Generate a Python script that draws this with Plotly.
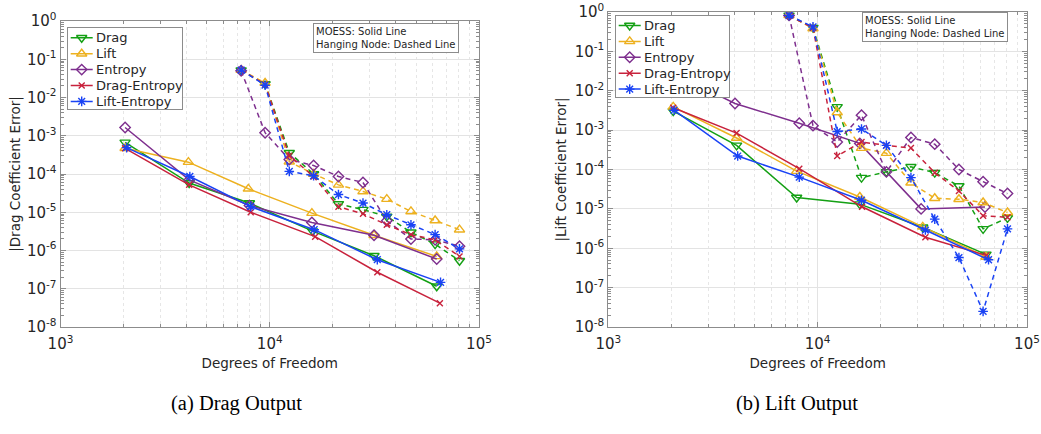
import plotly.graph_objects as go

# ---------------- data ----------------
SERIES = ["Drag", "Lift", "Entropy", "Drag-Entropy", "Lift-Entropy"]

# Hanging-node (dashed) degrees of freedom
HN_DOF = [7300, 9500, 12400, 16200, 21300, 27900, 36250, 47300, 61700, 80700]

# (a) Drag output -- MOESS (solid)
A_MOESS_DOF = {
    "Drag":         [2036, 4120, 8000, 16030, 31500, 62800],
    "Lift":         [2036, 4085, 7900, 15900, 31500, 62800],
    "Entropy":      [2036, 4120, 8000, 15900, 31500, 62800],
    "Drag-Entropy": [2036, 4120, 8110, 16480, 32660, 65000],
    "Lift-Entropy": [2070, 4150, 8110, 16300, 32660, 65500],
}
A_MOESS_ERR = {
    "Drag":         [6.7e-4, 5.8e-5, 1.74e-5, 3.2e-6, 7.3e-7, 1.16e-7],
    "Lift":         [4.7e-4, 2.04e-4, 4.1e-5, 9.5e-6, 2.5e-6, 7.0e-7],
    "Entropy":      [1.64e-3, 7.0e-5, 1.5e-5, 5.4e-6, 2.5e-6, 6.0e-7],
    "Drag-Entropy": [4.7e-4, 5.2e-5, 1.0e-5, 2.3e-6, 2.7e-7, 4.2e-8],
    "Lift-Entropy": [4.9e-4, 8.6e-5, 1.4e-5, 3.5e-6, 5.75e-7, 1.47e-7],
}
# (a) Drag output -- Hanging node (dashed)
A_HN_ERR = {
    "Drag":         [0.052, 0.0226, 3.6e-4, 1.0e-4, 1.65e-5, 1.17e-5, 7.8e-6, 3.0e-6, 1.47e-6, 5.4e-7],
    "Lift":         [0.052, 0.024, 2.1e-4, 1.0e-4, 5.2e-5, 3.5e-5, 2.2e-5, 1.05e-5, 6.1e-6, 3.5e-6],
    "Entropy":      [0.05, 1.2e-3, 2.4e-4, 1.67e-4, 8.6e-5, 6.0e-5, 6.0e-6, 2.0e-6, 1.9e-6, 1.3e-6],
    "Drag-Entropy": [0.052, 0.022, 3.0e-4, 8.6e-5, 1.4e-5, 9.1e-6, 4.7e-6, 2.6e-6, 1.9e-6, 7.0e-7],
    "Lift-Entropy": [0.052, 0.021, 1.17e-4, 9.0e-5, 2.9e-5, 1.74e-5, 8.6e-6, 4.7e-6, 2.6e-6, 1.1e-6],
}

# (b) Lift output -- MOESS (solid)
B_MOESS_DOF = {
    "Drag":         [2043, 4100, 7940, 15900, 31760, 63700],
    "Lift":         [2043, 4100, 7940, 15900, 31760, 63700],
    "Entropy":      [2043, 4030, 8170, 15900, 31200, 63000],
    "Drag-Entropy": [2043, 4100, 8170, 16300, 32700, 64000],
    "Lift-Entropy": [2060, 4150, 8170, 16200, 32700, 65500],
}
B_MOESS_ERR = {
    "Drag":         [3.05e-3, 4.1e-4, 1.94e-5, 1.32e-5, 3.4e-6, 7.0e-7],
    "Lift":         [3.9e-3, 6.3e-4, 9.1e-5, 2.0e-5, 3.5e-6, 6.0e-7],
    "Entropy":      [2.8e-2, 4.75e-3, 1.49e-3, 4.6e-4, 1.0e-5, 1.12e-5],
    "Drag-Entropy": [3.7e-3, 8.4e-4, 1.05e-4, 1.13e-5, 1.9e-6, 6.6e-7],
    "Lift-Entropy": [3.2e-3, 2.2e-4, 6.4e-5, 1.66e-5, 2.9e-6, 5.1e-7],
}
# (b) Lift output -- Hanging node (dashed)
B_HN_ERR = {
    "Drag":         [0.82, 0.40, 3.9e-3, 6.2e-5, 8.7e-5, 1.17e-4, 8.3e-5, 3.8e-5, 3.1e-6, 5.9e-6],
    "Lift":         [0.82, 0.38, 2.8e-3, 3.5e-4, 2.6e-4, 4.6e-5, 1.86e-5, 1.76e-5, 1.45e-5, 8.1e-6],
    "Entropy":      [0.82, 1.3e-3, 5.0e-4, 2.4e-3, 8.7e-5, 6.5e-4, 4.4e-4, 1.0e-4, 4.9e-5, 2.45e-5],
    "Drag-Entropy": [0.80, 0.40, 2.2e-4, 5.0e-4, 4.1e-4, 3.5e-4, 8.3e-5, 2.85e-5, 6.7e-6, 6.1e-6],
    "Lift-Entropy": [0.82, 0.42, 9.2e-4, 1.07e-3, 4.1e-4, 6.2e-5, 5.5e-6, 5.8e-7, 2.5e-8, 3.1e-6],
}

Y_TICK_EXP = [-8, -7, -6, -5, -4, -3, -2, -1, 0]
X_TICK_EXP = [3, 4, 5]

# ---------------- styles ----------------
COLORS = {
    "Drag": "#14a014",
    "Lift": "#EDB120",
    "Entropy": "#7E2F8E",
    "Drag-Entropy": "#C8223C",
    "Lift-Entropy": "#1a43f5",
}
SYMBOLS = {
    "Drag": "triangle-down-open",
    "Lift": "triangle-up-open",
    "Entropy": "diamond-open",
    "Drag-Entropy": "x-thin-open",
    "Lift-Entropy": "asterisk-open",
}
SIZES = {"Drag": 9, "Lift": 9, "Entropy": 8, "Drag-Entropy": 6, "Lift-Entropy": 8}

FONT = "DejaVu Sans"
AXIS_COL = "#8c8c8c"
TEXT_COL = "#262626"
W, H = 1041, 434

# legend boxes in pixels: (left, top, width, height)
LEG_BOXES = [(67.7, 28.3, 114, 81), (615.7, 16, 113, 81)]
LEG_ROW0, LEG_DY = 9.5, 15.9
LEG_LINE = (3, 25)
LEG_TEXT_X = 26


def px_x(p):
    return p / W


def px_y(p):
    return (H - p) / H


fig = go.Figure()


def marker_style(s):
    return dict(symbol=SYMBOLS[s], size=SIZES[s], color=COLORS[s],
                line=dict(color=COLORS[s], width=1.4))


def add_panel(xa, ya, moess_dof, moess_err, hn_err):
    for s in SERIES:
        fig.add_trace(go.Scatter(
            x=moess_dof[s], y=moess_err[s], name=s, mode="lines+markers",
            xaxis=xa, yaxis=ya, showlegend=False,
            line=dict(color=COLORS[s], width=1.5), marker=marker_style(s),
        ))
    for s in SERIES:
        fig.add_trace(go.Scatter(
            x=HN_DOF, y=hn_err[s], name=s + " (Hanging Node)", mode="lines+markers",
            xaxis=xa, yaxis=ya, showlegend=False,
            line=dict(color=COLORS[s], width=1.5, dash="5px,4px"), marker=marker_style(s),
        ))


def add_legend(xa, ya):
    for i, s in enumerate(SERIES):
        yrow = LEG_ROW0 + LEG_DY * i
        fig.add_trace(go.Scatter(
            x=list(LEG_LINE), y=[yrow, yrow], mode="lines", xaxis=xa, yaxis=ya,
            showlegend=False, hoverinfo="skip", line=dict(color=COLORS[s], width=1.5)))
        fig.add_trace(go.Scatter(
            x=[sum(LEG_LINE) / 2], y=[yrow], mode="markers", xaxis=xa, yaxis=ya,
            showlegend=False, hoverinfo="skip", marker=marker_style(s)))
        fig.add_annotation(x=LEG_TEXT_X, y=yrow, xref=xa, yref=ya, text=s,
                           xanchor="left", yanchor="middle", showarrow=False,
                           font=dict(family=FONT, size=13, color=TEXT_COL))


add_panel("x", "y", A_MOESS_DOF, A_MOESS_ERR, A_HN_ERR)
add_panel("x2", "y2", B_MOESS_DOF, B_MOESS_ERR, B_HN_ERR)
add_legend("x3", "y3")
add_legend("x4", "y4")

xt_vals = [10 ** e for e in X_TICK_EXP]
xt_text = ["10<sup>%d</sup>" % e for e in X_TICK_EXP]
yt_vals = [10.0 ** e for e in Y_TICK_EXP]
yt_text = ["10<sup>%d</sup>" % e for e in Y_TICK_EXP]

common = dict(
    showline=True, linecolor=AXIS_COL, linewidth=1, mirror="ticks",
    ticks="inside", ticklen=5, tickcolor=AXIS_COL, tickwidth=1,
    showgrid=True, gridcolor="#e3e3e3", gridwidth=1, zeroline=False,
    tickfont=dict(family=FONT, size=15, color=TEXT_COL),
    automargin=False, type="log", ticklabeloverflow="allow",
)
xcommon = dict(common, range=[3, 5], tickmode="array", tickvals=xt_vals, ticktext=xt_text,
               ticklabelstandoff=3,
               minor=dict(ticks="inside", ticklen=3, tickcolor=AXIS_COL, dtick="D1",
                          showgrid=True, gridcolor="#e6e6e6", griddash="dot", gridwidth=1),
               title=dict(text="Degrees of Freedom", font=dict(family=FONT, size=13.5, color=TEXT_COL),
                          standoff=6))
ycommon = dict(common, range=[-8, 0], tickmode="array", tickvals=yt_vals, ticktext=yt_text,
               minor=dict(ticks="inside", ticklen=3, tickcolor=AXIS_COL, dtick="D1", showgrid=False))

legend_axis = dict(showline=True, mirror=True, linecolor=AXIS_COL, linewidth=1,
                   showgrid=False, zeroline=False, showticklabels=False, ticks="",
                   fixedrange=True)


def leg_axes(box, anchor_x, anchor_y):
    l, t, w, h = box
    xa = dict(legend_axis, domain=[px_x(l), px_x(l + w)], range=[0, w], anchor=anchor_y)
    ya = dict(legend_axis, domain=[px_y(t + h), px_y(t)], range=[h, 0], anchor=anchor_x)
    return xa, ya


x3, y3 = leg_axes(LEG_BOXES[0], "x3", "y3")
x4, y4 = leg_axes(LEG_BOXES[1], "x4", "y4")

fig.update_layout(
    width=W, height=H, margin=dict(l=0, r=0, t=0, b=0),
    paper_bgcolor="white", plot_bgcolor="white",
    font=dict(family=FONT, color=TEXT_COL),
    showlegend=False,
    xaxis=dict(xcommon, domain=[px_x(60.5), px_x(479)], anchor="y"),
    yaxis=dict(ycommon, domain=[px_y(327), px_y(21)], anchor="x",
               title=dict(text="|Drag Coefficient Error|", font=dict(family=FONT, size=13.5, color=TEXT_COL),
                          standoff=3)),
    xaxis2=dict(xcommon, domain=[px_x(608.3), px_x(1027)], anchor="y2"),
    yaxis2=dict(ycommon, domain=[px_y(327), px_y(12)], anchor="x2",
                title=dict(text="|Lift Coefficient Error|", font=dict(family=FONT, size=13.5, color=TEXT_COL),
                           standoff=4)),
    xaxis3=x3, yaxis3=y3, xaxis4=x4, yaxis4=y4,
)

note = "MOESS: Solid Line<br>Hanging Node: Dashed Line"
for xl, yt in [(313.3, 22.7), (862.3, 12.5)]:
    fig.add_annotation(x=px_x(xl), y=px_y(yt), xref="paper", yref="paper",
                       xanchor="left", yanchor="top", showarrow=False, align="left",
                       text=note, font=dict(family=FONT, size=10, color=TEXT_COL),
                       bgcolor="white", bordercolor=AXIS_COL, borderwidth=1, borderpad=2)

for txt, xc in [("(a) Drag Output", 236), ("(b) Lift Output", 797)]:
    fig.add_annotation(x=px_x(xc), y=px_y(403), xref="paper", yref="paper",
                       xanchor="center", yanchor="middle", showarrow=False, text=txt,
                       font=dict(family="Liberation Serif", size=20.5, color="black"))

fig.write_html("out.html")
